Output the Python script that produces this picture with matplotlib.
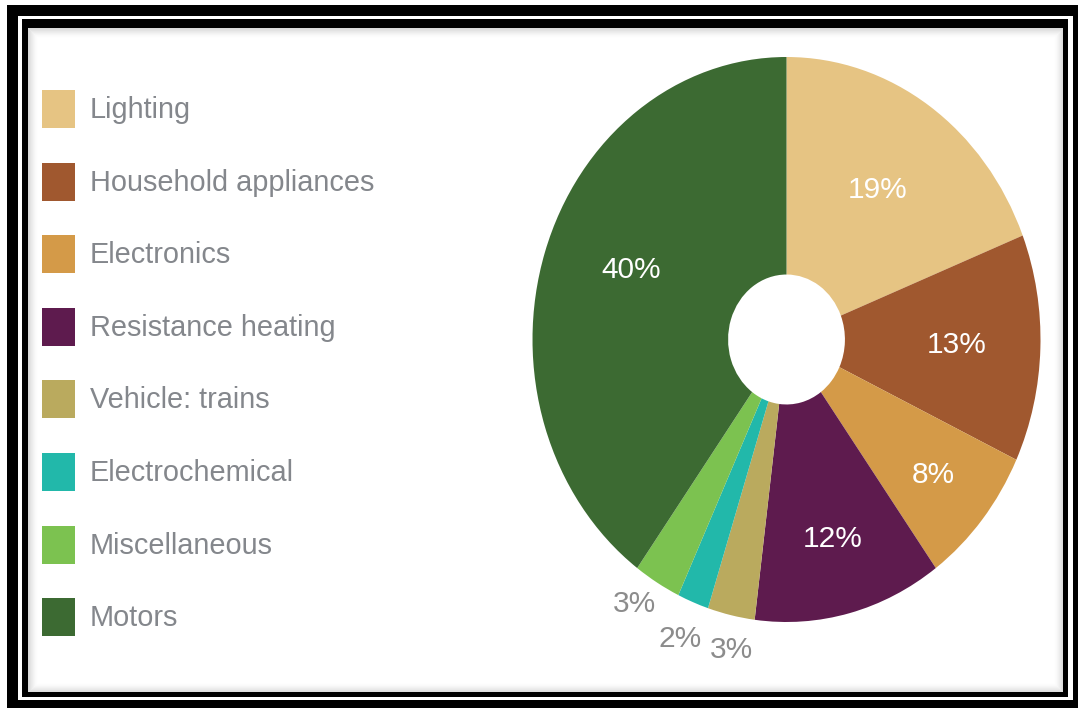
import matplotlib.pyplot as plt
from matplotlib.patches import Rectangle
import numpy as np

# electricity end-use shares (%)
categories = ['Lighting', 'Household appliances', 'Electronics', 'Resistance heating',
              'Vehicle: trains', 'Electrochemical', 'Miscellaneous', 'Motors']
shares = [19, 13, 8, 12, 3, 2, 3, 40]
colors = ['#E6C483', '#A0582F', '#D49A48', '#5E1B4E',
          '#BAAA5E', '#22B8AA', '#7CC250', '#3C6A32']

# label placement: distance from centre, angle nudge, inside (white) or outside (grey)
label_dist = [0.64, 0.67, 0.75, 0.73, 1.12, 1.14, 1.11, 0.66]
label_nudge = [0, 0, 0, 0, 1.5, 0, -2, -4]
label_inside = [True, True, True, True, False, False, False, True]

W, H = 1078, 708
fig = plt.figure(figsize=(W / 100, H / 100), dpi=100)

# background axes in pixel units for the frame and the legend
bg = fig.add_axes([0, 0, 1, 1])
bg.set_xlim(0, W)
bg.set_ylim(H, 0)
bg.axis('off')

def box(x0, y0, x1, y1, color, **kw):
    bg.add_patch(Rectangle((x0, y0), x1 - x0, y1 - y0, facecolor=color,
                           edgecolor='none', **kw))

# double black frame
box(7, 5, W, H, 'black')
box(18, 16, 1073, 700, 'white')
box(22, 19, 1068, 697, 'black')
box(28, 28, 1063, 692, 'white')
# soft shadow just inside the inner frame
for i in range(10):
    a = 0.14 * (1 - i / 10) ** 1.6
    bg.add_patch(Rectangle((28 + i, 28 + i), 1035 - 2 * i, 664 - 2 * i,
                           facecolor='none', edgecolor='black', alpha=a,
                           linewidth=0.8))

# legend
row_y = 109
for name, c in zip(categories, colors):
    box(42, row_y - 19, 75, row_y + 19, c)
    bg.text(90, row_y + 1, name, fontsize=20.8, color='#84878c',
            family='Liberation Sans', va='center', ha='left')
    row_y += 72.6

# pie (stretched vertically like the original graphic)
ax = fig.add_axes([532.5 / W, (H - 622) / H, 508 / W, 565 / H])
wedges, _ = ax.pie(shares, colors=colors, startangle=90, counterclock=False,
                   radius=1.0, wedgeprops=dict(width=0.77, linewidth=0))
ax.set_aspect('auto')
ax.set_xlim(-1, 1)
ax.set_ylim(-1, 1)
ax.axis('off')

ends = 90 - 3.6 * np.cumsum(shares)
mids = ends + 1.8 * np.array(shares)
for s, ang, nudge, d, inside in zip(shares, mids, label_nudge, label_dist, label_inside):
    t = np.deg2rad(ang + nudge)
    ax.text(d * np.cos(t), d * np.sin(t), f'{s}%', fontsize=21.5,
            family='Liberation Sans',
            color='white' if inside else '#8c8c8c',
            ha='center', va='center', clip_on=False)

fig.savefig('out.png', dpi=100)
